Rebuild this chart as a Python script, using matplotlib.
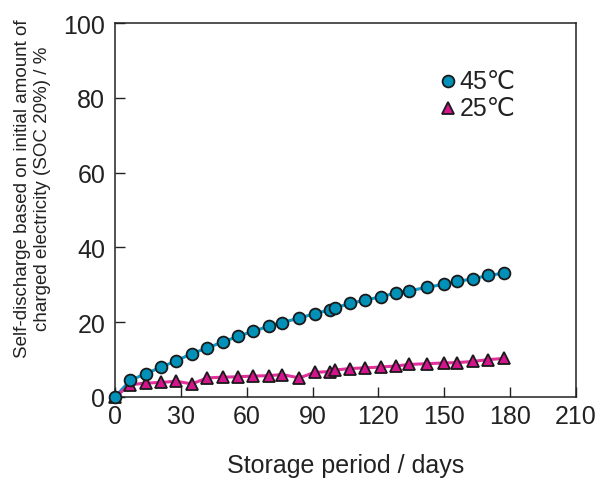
import numpy as np
import matplotlib.pyplot as plt

plt.rcParams['font.family'] = ['Liberation Sans', 'DejaVu Sans']

# storage days and self-discharge (%)
days_45 = [0, 7, 14, 21, 28, 35, 42, 49, 56, 63, 70, 76, 84, 91, 98, 100,
           107, 114, 121, 128, 134, 142, 150, 156, 163, 170, 177]
sd_45 = [0, 4.5, 6.2, 8.0, 9.7, 11.6, 13.1, 14.7, 16.2, 17.6, 18.9, 19.9, 21.1,
         22.3, 23.3, 23.8, 25.0, 25.9, 26.8, 27.8, 28.4, 29.3, 30.2, 30.9,
         31.6, 32.5, 33.1]
days_25 = [0, 7, 14, 21, 28, 35, 42, 49, 56, 63, 70, 76, 84, 91, 98, 100,
           107, 114, 121, 128, 134, 142, 150, 156, 163, 170, 177]
sd_25 = [0, 3.3, 3.7, 3.9, 4.2, 3.5, 5.1, 5.3, 5.4, 5.6, 5.7, 6.0, 5.1,
         6.6, 6.8, 7.2, 7.6, 7.8, 8.0, 8.3, 8.7, 8.9, 9.1, 9.2, 9.5, 10.0, 10.3]

fig = plt.figure(figsize=(6.07, 4.81), dpi=100)
ax = fig.add_axes([0.1895, 0.1726, 0.7595, 0.7774])

ax.plot(days_45, sd_45, '-', color='#0a9ac8', lw=2.2, zorder=2, clip_on=False)
ax.plot(days_45, sd_45, 'o', ms=8.5, mfc='#0090b8', mec='#1a1a1a', mew=1.3,
        zorder=4, clip_on=False)
ax.plot(days_25, sd_25, '-', color='#e3309c', lw=2.2, zorder=2, clip_on=False)
ax.plot(days_25, sd_25, '^', ms=9, mfc='#d4148c', mec='#1a1a1a', mew=1.3,
        zorder=3, clip_on=False)

# legend drawn by hand
ax.plot([151.7], [84.5], 'o', ms=8.5, mfc='#0090b8', mec='#1a1a1a', mew=1.3)
ax.plot([151.7], [77.3], '^', ms=9, mfc='#d4148c', mec='#1a1a1a', mew=1.3)
ax.text(157, 84.5, '45℃', fontsize=18, va='center', color='#222222')
ax.text(157, 77.3, '25℃', fontsize=18, va='center', color='#222222')

ax.set_xlim(0, 210)
ax.set_ylim(0, 100)
ax.set_xticks(np.arange(0, 211, 30))
ax.set_yticks(np.arange(0, 101, 20))
ax.tick_params(direction='in', length=7, width=1, labelsize=18,
               colors='#222222', top=False, right=False)
ax.tick_params(axis='x', pad=5)
ax.tick_params(axis='y', pad=7)
for s in ax.spines.values():
    s.set_color('#222222')
    s.set_linewidth(1.1)

ax.set_xlabel('Storage period / days', fontsize=18, color='#222222', labelpad=18)
fig.text(0.0535, 0.607,
         'Self-discharge based on initial amount of\ncharged electricity (SOC 20%) / %',
         rotation=90, ha='center', va='center', multialignment='center',
         fontsize=13.5, color='#222222', linespacing=1.25)

fig.savefig('out.png', dpi=100)
